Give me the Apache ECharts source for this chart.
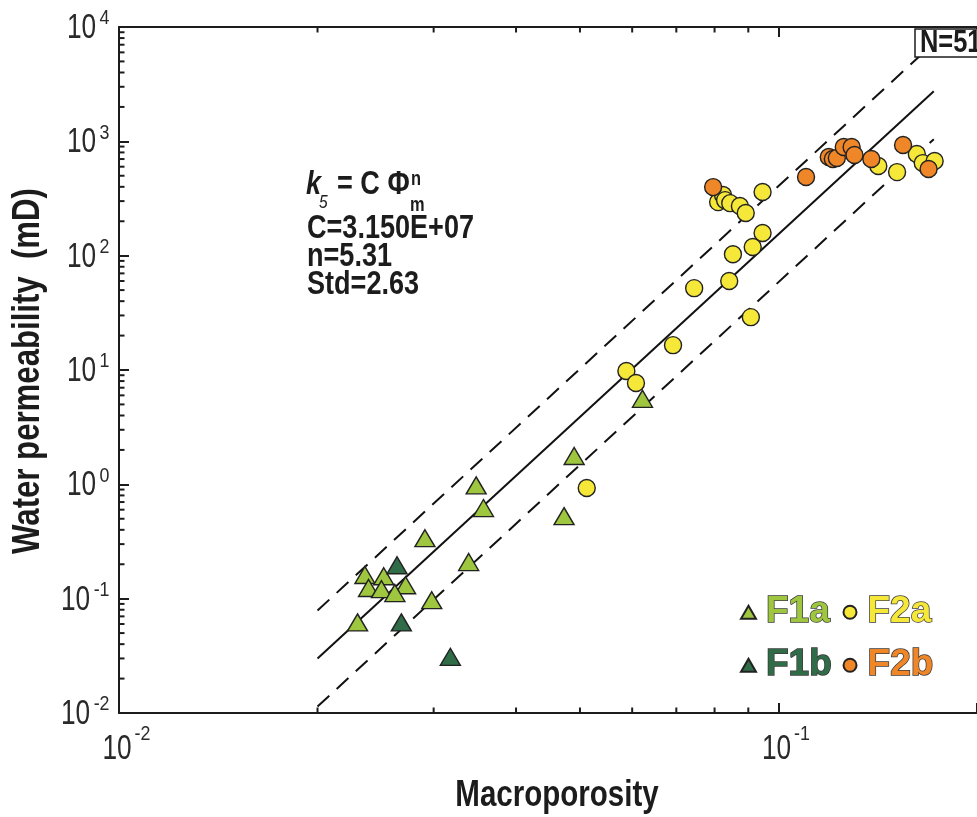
<!DOCTYPE html>
<html><head><meta charset="utf-8">
<script src="https://cdn.jsdelivr.net/npm/echarts@6/dist/echarts.min.js"></script>
<style>html,body{margin:0;padding:0;background:#fff}#c{width:977px;height:817px}</style>
</head><body><div id="c"></div>
<script>
// ---------- data ----------
const xTicks = [0.01, 0.1];
const yTicks = [0.01, 0.1, 1, 10, 100, 1000, 10000];
const f1a = [[0.0348,0.98],[0.0357,0.62],[0.0291,0.338],[0.0339,0.209],[0.0236,0.161],[0.0252,0.157],[0.0239,0.124],[0.0250,0.121],[0.0272,0.131],[0.0262,0.112],[0.0298,0.097],[0.0230,0.062],[0.0490,1.77],[0.0473,0.527],[0.0622,5.6]];
const f1b = [[0.0264,0.196],[0.0268,0.062],[0.0318,0.031]];
const f2a = [[0.0810,294],[0.0824,339],[0.0830,306],[0.0845,288],[0.0874,272],[0.0892,236],[0.0946,360],[0.1417,608],[0.1513,538],[0.1621,774],[0.1655,645],[0.1725,673],[0.0946,158],[0.0914,119],[0.0853,103],[0.0842,60],[0.0745,52],[0.0908,29],[0.0692,16.5],[0.0588,9.8],[0.0608,7.7],[0.0512,0.93]];
const f2b = [[0.0796,398],[0.1101,488],[0.1192,729],[0.1209,700],[0.1226,714],[0.1256,891],[0.1291,891],[0.1304,759],[0.1383,700],[0.1545,929],[0.1689,573]];
const fitC = 3.150e7, fitN = 5.31, fitStd = 2.63;
const fitRange = [0.02, 0.172];
const nCount = 51;
const xTitle = 'Macroporosity';
const yTitle = 'Water permeability  (mD)';

// ---------- styling ----------
const FW = '"Liberation Sans",Arial,sans-serif';
const NARROW = 0.82;
const INK = '#1c1c1c';
const LBL = '#2a2a2a';
const colors = {F1a:'#9fc63f', F1b:'#2f6c47', F2a:'#f6e838', F2b:'#ef8627'};

const fitLine = fitRange.map(x => [x, fitC * Math.pow(x, fitN)]);
const upLine = fitLine.map(p => [p[0], p[1] * fitStd]);
const loLine = fitLine.map(p => [p[0], p[1] / fitStd]);

const yMinor = [];
for (let e = -2; e < 4; e++) for (let m = 2; m <= 9; m++) yMinor.push([0.01, m * Math.pow(10, e)]);
const xMinor = [];
for (let e = -2; e < 0; e++) for (let m = 2; m <= 9; m++) { const v = m * Math.pow(10, e); if (v < 0.199) xMinor.push([v, 0.01]); }

const BASE_FS = 35, BASE_SX = 0.75, SUP_FS = 21, SUP_SX = 0.85;
function supWidth(s) { let w = 0; for (const ch of s) w += (ch === '-' ? 0.333 : 0.556); return w * SUP_FS * SUP_SX; }
function baseWidth() { return 1.112 * BASE_FS * BASE_SX; }
function expOf(v) { return String(Math.round(Math.log10(v))); }

function tickLabel(kind) {
  return (p, api) => {
    const v = kind === 'y' ? api.value(1) : api.value(0);
    const c = api.coord([api.value(0), api.value(1)]);
    const e = expOf(v);
    let bx, by, sx, sy;
    if (kind === 'y') {
      const right = c[0] - 9.5;
      sx = right - supWidth(e); bx = sx - 3.5; by = c[1] + 1.5; sy = by - 10;
      return {type:'group', children:[
        {type:'text', x:bx, y:by, scaleX:BASE_SX, style:{text:'10', fontSize:BASE_FS, fontFamily:FW, fill:LBL, align:'right', verticalAlign:'middle'}},
        {type:'text', x:sx, y:sy, scaleX:SUP_SX, style:{text:e, fontSize:SUP_FS, fontFamily:FW, fill:LBL, align:'left', verticalAlign:'middle'}}]};
    } else {
      const cx = c[0] - 2; by = c[1] + 36.5; sy = by - 15;
      return {type:'group', children:[
        {type:'text', x:cx, y:by, scaleX:BASE_SX, style:{text:'10', fontSize:BASE_FS, fontFamily:FW, fill:LBL, align:'center', verticalAlign:'middle'}},
        {type:'text', x:cx + baseWidth() / 2 + 3, y:sy, scaleX:SUP_SX, style:{text:e, fontSize:SUP_FS, fontFamily:FW, fill:LBL, align:'left', verticalAlign:'middle'}}]};
    }
  };
}

const axisLine = {show:true, lineStyle:{color:INK, width:2}};
const axisTick = {show:true, inside:true, length:10, lineStyle:{color:INK, width:2}};

function scatter(name, data, symbol, size) {
  return { name, type:'scatter', data, symbol, symbolSize:size, z:5,
    itemStyle:{color:colors[name], borderColor:'#222', borderWidth:1.4, opacity:1}, emphasis:{disabled:true} };
}
function fline(data, dashed) {
  return { type:'line', data, symbol:'none', silent:true, z:1,
    lineStyle:{color:'#111', width:2, type: dashed ? [16, 10] : 'solid'} };
}
function btext(x, y, text, fs, opts) {
  opts = opts || {};
  return {type:'text', x, y, scaleX:NARROW, rotation:opts.rotation || 0, z:opts.z || 50,
    style:{text, fontSize:fs, fontWeight:opts.weight || 'bold', fontStyle:opts.italic ? 'italic' : 'normal',
      fontFamily:FW, fill:INK, align:opts.align || 'left', verticalAlign:'middle'}};
}

const chart = echarts.init(document.getElementById('c'), null, {renderer:'canvas'});
const legendText = {fontSize:37, fontWeight:'bold', fontFamily:FW, textBorderColor:'#3a3a3a', textBorderWidth:1.5, padding:[0,0,0,5]};
const eqC = 'C=' + fitC.toExponential(3).toUpperCase().replace(/E\+(\d)$/, 'E+0$1');
chart.setOption({
  animation:false,
  backgroundColor:'#fff',
  grid:{left:119, top:27, width:868, height:686, containLabel:false},
  xAxis:[
    {type:'log', logBase:10, min:xTicks[0], max:0.2, position:'bottom',
     axisLine, axisTick, splitLine:{show:false}, minorTick:{show:false}, axisLabel:{show:false}},
    {type:'log', logBase:10, min:xTicks[0], max:0.2, position:'top',
     axisLine, axisTick, splitLine:{show:false}, axisLabel:{show:false}}
  ],
  yAxis:[
    {type:'log', logBase:10, min:yTicks[0], max:yTicks[yTicks.length-1], position:'left',
     axisLine, axisTick, splitLine:{show:false}, minorTick:{show:false}, axisLabel:{show:false}}
  ],
  legend:[
    {data:[{name:'F1a', textStyle:{color:colors.F1a}}, {name:'F2a', textStyle:{color:colors.F2a}}],
     left:740, top:593, itemWidth:15, itemHeight:13, itemGap:12, padding:0, selectedMode:false, textStyle:legendText},
    {data:[{name:'F1b', textStyle:{color:colors.F1b}}, {name:'F2b', textStyle:{color:colors.F2b}}],
     left:740, top:646, itemWidth:15, itemHeight:13, itemGap:10, padding:0, selectedMode:false, textStyle:legendText}
  ],
  series:[
    fline(upLine, true), fline(fitLine, false), fline(loLine, true),
    {type:'custom', silent:true, clip:false, z:3, data:yMinor,
     renderItem:(p, api) => { const c = api.coord([api.value(0), api.value(1)]);
       return {type:'line', shape:{x1:c[0], y1:c[1], x2:c[0]+5.5, y2:c[1]}, style:{stroke:INK, lineWidth:2}}; }},
    {type:'custom', silent:true, clip:false, z:3, data:xMinor,
     renderItem:(p, api) => { const c = api.coord([api.value(0), 0.01]); const t = api.coord([api.value(0), 10000]);
       return {type:'group', children:[
         {type:'line', shape:{x1:c[0], y1:c[1], x2:c[0], y2:c[1]-5.5}, style:{stroke:INK, lineWidth:2}},
         {type:'line', shape:{x1:t[0], y1:t[1], x2:t[0], y2:t[1]+5.5}, style:{stroke:INK, lineWidth:2}}]}; }},
    {type:'custom', silent:true, clip:false, z:3, data:yTicks.map(v => [xTicks[0], v]), renderItem:tickLabel('y')},
    {type:'custom', silent:true, clip:false, z:3, data:xTicks.map(v => [v, yTicks[0]]), renderItem:tickLabel('x')},
    scatter('F1a', f1a, 'triangle', [20, 17]),
    scatter('F1b', f1b, 'triangle', [20, 17]),
    scatter('F2a', f2a, 'circle', 17),
    scatter('F2b', f2b, 'circle', 17)
  ],
  graphic:[
    btext(557, 796, xTitle, 36, {align:'center'}),
    btext(29, 371, yTitle, 38, {align:'center', rotation:Math.PI/2}),
    btext(306, 185, 'k', 33, {italic:true}),
    btext(319, 203, '5', 19, {italic:true, weight:'normal'}),
    btext(337, 185, '= C Φ', 33),
    btext(411, 179, 'n', 20),
    btext(410, 205, 'm', 20),
    btext(307, 229, eqC, 33),
    btext(307, 257, 'n=' + fitN.toFixed(2), 33),
    btext(307, 285, 'Std=' + fitStd.toFixed(2), 33),
    {type:'rect', x:915, y:29, z:100, shape:{width:100, height:28}, style:{fill:'#fff', stroke:INK, lineWidth:1.5}},
    btext(920, 43.5, 'N=' + nCount, 31, {z:101})
  ]
});
</script></body></html>
